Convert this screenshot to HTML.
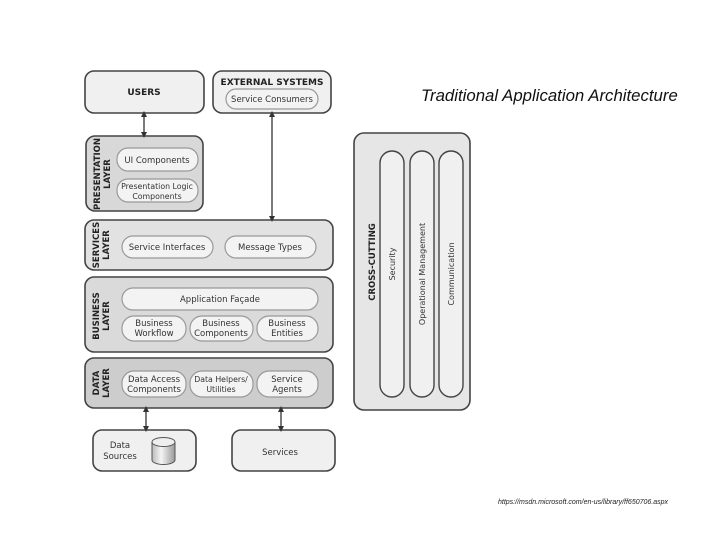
<!DOCTYPE html>
<html><head><style>
html,body{margin:0;padding:0;background:#fff;}
svg{display:block;}
text{font-family:"DejaVu Sans","Liberation Sans",sans-serif;fill:#333;}
.b{font-weight:bold;fill:#222;}
</style></head><body>
<svg width="720" height="540" viewBox="0 0 720 540" xmlns="http://www.w3.org/2000/svg">
<defs>
<marker id="ah" markerWidth="6" markerHeight="6" refX="3" refY="3" orient="auto-start-reverse" markerUnits="userSpaceOnUse"><path d="M0,0 L6,3 L0,6 z" fill="#333"/></marker>
<linearGradient id="cyl" x1="0" x2="1"><stop offset="0" stop-color="#bbb"/><stop offset="0.4" stop-color="#f4f4f4"/><stop offset="1" stop-color="#999"/></linearGradient>
</defs>
<g stroke="#444" stroke-width="1.6">
<rect x="85" y="71" width="119" height="42" rx="9" fill="#f0f0f0"/>
<rect x="213" y="71" width="118" height="42" rx="9" fill="#f0f0f0"/>
<rect x="86" y="136" width="117" height="75" rx="9" fill="#d8d8d8"/>
<rect x="85" y="220" width="248" height="50" rx="9" fill="#e2e2e2"/>
<rect x="85" y="277" width="248" height="75" rx="9" fill="#dadada"/>
<rect x="85" y="358" width="248" height="50" rx="9" fill="#cdcdcd"/>
<rect x="93" y="430" width="103" height="41" rx="9" fill="#f0f0f0"/>
<rect x="232" y="430" width="103" height="41" rx="9" fill="#f0f0f0"/>
<rect x="354" y="133" width="116" height="277" rx="10" fill="#e6e6e6"/>
</g>
<g stroke="#999" stroke-width="1.2" fill="#f3f3f3">
<rect x="226" y="89" width="92" height="20" rx="10"/>
<rect x="117" y="148" width="81" height="23" rx="11"/>
<rect x="117" y="179" width="81" height="23" rx="11"/>
<rect x="122" y="236" width="91" height="22" rx="11"/>
<rect x="225" y="236" width="91" height="22" rx="11"/>
<rect x="122" y="288" width="196" height="22" rx="11"/>
<rect x="122" y="316" width="64" height="25" rx="12"/>
<rect x="190" y="316" width="63" height="25" rx="12"/>
<rect x="257" y="316" width="61" height="25" rx="12"/>
<rect x="122" y="371" width="64" height="26" rx="12"/>
<rect x="190" y="371" width="63" height="26" rx="12"/>
<rect x="257" y="371" width="61" height="26" rx="12"/>
</g>
<g stroke="#444" stroke-width="1.4" fill="#f0f0f0">
<rect x="380" y="151" width="24" height="246" rx="12"/>
<rect x="410" y="151" width="24" height="246" rx="12"/>
<rect x="439" y="151" width="24" height="246" rx="12"/>
</g>
<g stroke="#333" stroke-width="1.3" marker-start="url(#ah)" marker-end="url(#ah)">
<line x1="144" y1="114" x2="144" y2="135"/>
<line x1="272" y1="114" x2="272" y2="219"/>
<line x1="146" y1="409" x2="146" y2="429"/>
<line x1="281" y1="409" x2="281" y2="429"/>
</g>
<path d="M152,442 v18 a11.5,4.5 0 0 0 23,0 v-18" fill="url(#cyl)" stroke="#555" stroke-width="1"/>
<ellipse cx="163.5" cy="442" rx="11.5" ry="4.5" fill="#eee" stroke="#555" stroke-width="1"/>
<g font-size="9" class="b">
<text class="b" x="144" y="95" text-anchor="middle">USERS</text>
<text class="b" x="272" y="85" text-anchor="middle">EXTERNAL SYSTEMS</text>
</g>
<g font-size="8.5" text-anchor="middle">
<text x="272" y="102">Service Consumers</text>
<text x="157" y="163">UI Components</text>
<text x="157" y="189" font-size="7.8">Presentation Logic</text>
<text x="157" y="199" font-size="7.8">Components</text>
<text x="167" y="250">Service Interfaces</text>
<text x="270" y="250">Message Types</text>
<text x="220" y="302">Application Façade</text>
<text x="154" y="326">Business</text><text x="154" y="336">Workflow</text>
<text x="221" y="326">Business</text><text x="221" y="336">Components</text>
<text x="287" y="326">Business</text><text x="287" y="336">Entities</text>
<text x="154" y="382">Data Access</text><text x="154" y="392">Components</text>
<text x="221" y="382" font-size="7.8">Data Helpers/</text><text x="221" y="392" font-size="7.8">Utilities</text>
<text x="287" y="382">Service</text><text x="287" y="392">Agents</text>
<text x="120" y="448">Data</text><text x="120" y="459">Sources</text>
<text x="280" y="455">Services</text>
</g>
<g font-size="8.5" class="b" text-anchor="middle">
<text class="b" transform="translate(100,174) rotate(-90)">PRESENTATION</text>
<text class="b" transform="translate(110,174) rotate(-90)">LAYER</text>
<text class="b" transform="translate(99,245) rotate(-90)">SERVICES</text>
<text class="b" transform="translate(109,245) rotate(-90)">LAYER</text>
<text class="b" transform="translate(99,316) rotate(-90)">BUSINESS</text>
<text class="b" transform="translate(109,316) rotate(-90)">LAYER</text>
<text class="b" transform="translate(99,383) rotate(-90)">DATA</text>
<text class="b" transform="translate(109,383) rotate(-90)">LAYER</text>
<text class="b" transform="translate(375,262) rotate(-90)">CROSS-CUTTING</text>
</g>
<g font-size="8" text-anchor="middle">
<text transform="translate(395,264) rotate(-90)">Security</text>
<text transform="translate(425,274) rotate(-90)">Operational Management</text>
<text transform="translate(454,274) rotate(-90)">Communication</text>
</g>
<text x="421" y="101" font-size="16.8" font-style="italic" style="font-family:'Liberation Sans',sans-serif;fill:#111">Traditional Application Architecture</text>
<text x="498" y="504" font-size="7" font-style="italic" style="font-family:'Liberation Sans',sans-serif;fill:#222">https://msdn.microsoft.com/en-us/library/ff650706.aspx</text>
</svg>
</body></html>
